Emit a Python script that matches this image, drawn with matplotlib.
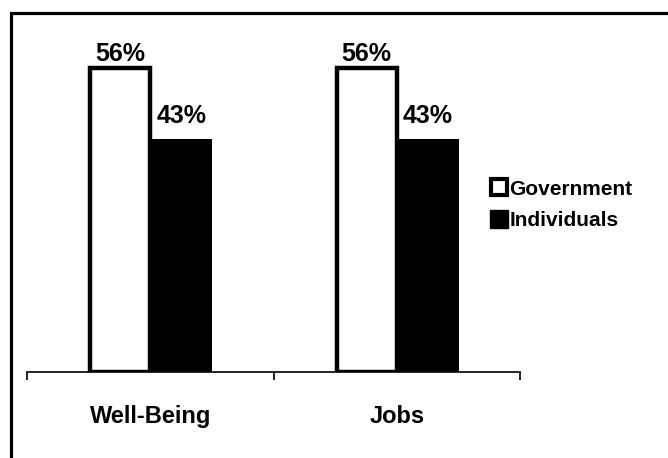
import matplotlib
matplotlib.use("Agg")
import matplotlib.pyplot as plt
from matplotlib.patches import Rectangle
from matplotlib.lines import Line2D
import numpy as np

categories = ["Well-Being", "Jobs"]
government = [56, 56]
individuals = [43, 43]
series_names = ["Government", "Individuals"]

plt.rcParams['font.family'] = ['Liberation Sans', 'DejaVu Sans']
plt.rcParams['font.weight'] = 'bold'

W, H = 668, 458
fig = plt.figure(figsize=(W / 100, H / 100), dpi=100)

# outer frame (extends beyond the image on right and bottom)
fig.patches.append(Rectangle((11 / W, -0.1), 1.2, (H - 13) / H + 0.1,
                             transform=fig.transFigure, fill=False,
                             edgecolor='black', linewidth=2.3))

left, right, bottom, top = 27, 520, 372, 40
ax = fig.add_axes([left / W, (H - bottom) / H, (right - left) / W, (bottom - top) / H])

x = np.arange(len(categories))
bw = 0.252
off = 0.126
b1 = ax.bar(x - off + 0.004, government, bw - 0.008, facecolor='white', edgecolor='black',
            linewidth=3.2)
b2 = ax.bar(x + off, individuals, bw, facecolor='black', edgecolor='black', linewidth=0)

ax.set_xlim(-0.5, 1.5)
ax.set_ylim(0, (bottom - top) / 5.43)

for bars, vals, pad in ((b1, government, 0.3), (b2, individuals, 1.9)):
    for rect, v in zip(bars, vals):
        ax.text(rect.get_x() + rect.get_width() / 2, v + pad, f"{v}%", ha='center',
                va='bottom', fontsize=18, fontweight='bold')

for s in ['top', 'right', 'left']:
    ax.spines[s].set_visible(False)
ax.spines['bottom'].set_linewidth(1.2)
ax.set_yticks([])
ax.set_xticks([-0.5, 0.5, 1.5])
ax.set_xticklabels([])
ax.tick_params(axis='x', which='major', direction='out', length=6, width=1.2)
ax.set_xticks(x, minor=True)
ax.set_xticklabels(categories, minor=True, fontsize=17, fontweight='bold')
ax.tick_params(axis='x', which='minor', length=0, pad=24)

handles = [Line2D([], [], marker='s', linestyle='none', markerfacecolor='white',
                  markeredgecolor='black', markeredgewidth=3.0, markersize=11),
           Line2D([], [], marker='s', linestyle='none', markerfacecolor='black',
                  markeredgecolor='black', markersize=12.5)]
fig.legend(handles, series_names, loc='center left', bbox_to_anchor=(471 / W, 1 - 205 / H),
           frameon=False, handletextpad=0.05, handlelength=0.9, labelspacing=0.62,
           prop={'size': 15, 'weight': 'bold'})

fig.savefig("out.png", dpi=100)
